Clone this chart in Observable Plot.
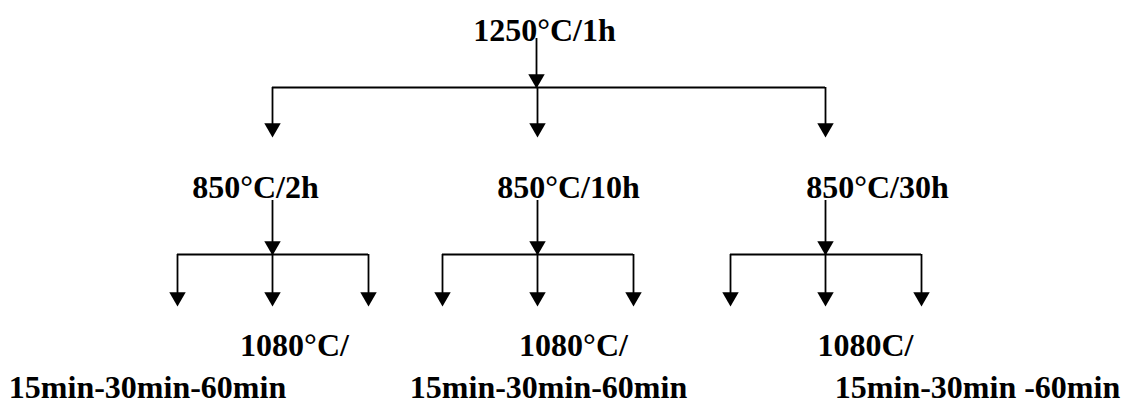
<!DOCTYPE html>
<html>
<head>
<meta charset="utf-8">
<script src="https://cdn.jsdelivr.net/npm/d3@7"></script>
<script src="https://cdn.jsdelivr.net/npm/@observablehq/plot@0.6"></script>
<style>
  html, body { margin: 0; padding: 0; background: #fff; }
</style>
</head>
<body>
<div id="chart"></div>
<script>
// Tree content
const rootLabel = "1250°C/1h";
const stage2Labels = ["850°C/2h", "850°C/10h", "850°C/30h"];
const stage3Temp = ["1080°C/", "1080°C/", "1080C/"];
const stage3Times = ["15min-30min-60min", "15min-30min-60min", "15min-30min -60min"];

// Layout (pixel space)
const W = 1129, H = 412;
const rootX = 536, rootTextX = 544, rootBaseline = 40;
const barY1 = 87;                  // first horizontal bar
const groupX = [272, 537, 825];    // branch x of each 850°C group
const tip1 = 137;                  // arrow tips level 1
const label2X = [255, 568, 877], label2Base = 197;
const stem2Top = 200, barY2 = 254, tip2 = 306;
const childSpread = [-95, 0, 96];
const label3X = [294, 573, 865], label3Base = 355;
const timesX = [147, 548, 977], timesBase = 397;

const triR = 6.1;
const triH = 2 * Math.sqrt(Math.PI * triR * triR / (3 * Math.sqrt(3))); // centroid-to-tip

// build link/arrow tables
const vlines = [];
const hlines = [];
const heads = [];
vlines.push({x: rootX, y1: rootBaseline - 2, y2: barY1});
heads.push({x: rootX, y: barY1 - triH + 1});
hlines.push({y: barY1, x1: groupX[0], x2: groupX[2]});
groupX.forEach((gx, i) => {
  vlines.push({x: gx, y1: barY1, y2: tip1 - 4});
  heads.push({x: gx, y: tip1 - triH});
  vlines.push({x: gx, y1: stem2Top, y2: barY2});
  heads.push({x: gx, y: barY2 - triH + 1});
  const xs = childSpread.map(d => gx + d);
  hlines.push({y: barY2, x1: xs[0], x2: xs[2]});
  xs.forEach(cx => {
    vlines.push({x: cx, y1: barY2, y2: tip2 - 4});
    heads.push({x: cx, y: tip2 - triH});
  });
});

const texts = [{x: rootTextX, y: rootBaseline, t: rootLabel}];
stage2Labels.forEach((t, i) => texts.push({x: label2X[i], y: label2Base, t}));
stage3Temp.forEach((t, i) => texts.push({x: label3X[i], y: label3Base, t}));
stage3Times.forEach((t, i) => texts.push({x: timesX[i], y: timesBase, t}));

const chart = Plot.plot({
  width: W,
  height: H,
  margin: 0,
  x: {domain: [0, W], range: [0, W], axis: null},
  y: {domain: [0, H], range: [0, H], axis: null},
  style: {background: "#fff"},
  marks: [
    Plot.ruleX(vlines, {x: "x", y1: "y1", y2: "y2", stroke: "#000", strokeWidth: 1.8}),
    Plot.ruleY(hlines, {y: "y", x1: "x1", x2: "x2", stroke: "#000", strokeWidth: 1.8}),
    Plot.dot(heads, {x: "x", y: "y", symbol: "triangle", r: triR, rotate: 180, fill: "#000", stroke: "none"}),
    Plot.text(texts, {
      x: "x", y: "y", text: "t",
      textAnchor: "middle", lineAnchor: "bottom",
      fontSize: 32, fontWeight: "bold",
      fontFamily: "'Liberation Serif', 'Times New Roman', serif",
      fill: "#000"
    })
  ]
});
document.getElementById("chart").append(chart);
</script>
</body>
</html>
